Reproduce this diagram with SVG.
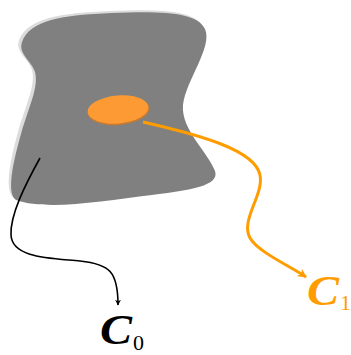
<svg xmlns="http://www.w3.org/2000/svg" width="351" height="355" viewBox="0 0 351 355">
<style>
.lbl{font-family:"Liberation Serif","DejaVu Serif",serif;font-style:italic;font-weight:bold;font-size:42px}
.sub{font-family:"Liberation Serif","DejaVu Serif",serif;font-size:22px}
.conn{fill:none}
</style>
<defs>
<marker id="ab" viewBox="0 0 10 10" refX="9" refY="5" markerWidth="6" markerHeight="6" orient="auto" markerUnits="userSpaceOnUse"><path d="M0,0 L10,5 L0,10 L3,5 Z" fill="#000"/></marker>
<marker id="ao" viewBox="0 0 10 10" refX="9" refY="5" markerWidth="9" markerHeight="9" orient="auto" markerUnits="userSpaceOnUse"><path d="M0,0 L10,5 L0,10 L3,5 Z" fill="#ff9d00"/></marker>
</defs>
<g id="surface">
<path d="M19,40 C28,18 60,13 110,11 C160,9 195,10 203,27 C211,45 184,78 181,103 C179,128 206,150 213,169 C218,184 188,188 150,193 C100,199 45,209 14,198 C4,192 10,160 18,132 C26,104 36,85 32,70 C28,58 15,52 19,40 Z" fill="#dcdcdc"/>
<path d="M22,42 C30,20 62,15 112,13 C162,11 197,12 205,29 C213,47 186,80 183,105 C181,130 208,152 215,171 C220,186 190,190 152,195 C102,201 47,211 16,200 C6,194 13,162 21,134 C29,106 39,87 35,72 C31,60 18,54 22,42 Z" fill="#808080"/>
</g>
<g id="patch">
<ellipse cx="118.5" cy="110.5" rx="31" ry="14.5" transform="rotate(-5 118.5 110.5)" fill="#c97a2e"/>
<ellipse cx="118" cy="109.5" rx="30.5" ry="14" transform="rotate(-5 118 109.5)" fill="#fd9a33"/>
</g>
<g id="connectors">
<path class="conn" d="M40,158 C25,185 10,215 11,235 C12,258 50,258 80,261 C110,264 118,272 118,305" stroke="#000" stroke-width="1.6" marker-end="url(#ab)"/>
<path class="conn" d="M143,122 C200,135 255,150 260,175 C264,195 240,220 250,238 C258,252 290,266 306,277" stroke="#ff9d00" stroke-width="3" marker-end="url(#ao)"/>
</g>
<g id="C0">
<text class="lbl" x="100" y="344" fill="#000" textLength="32" lengthAdjust="spacingAndGlyphs">C</text>
<text class="sub" x="133" y="350" fill="#000">0</text>
</g>
<g id="C1">
<text class="lbl" x="307" y="305" fill="#ff9d00" textLength="32" lengthAdjust="spacingAndGlyphs">C</text>
<text class="sub" x="340" y="310" fill="#ff9d00">1</text>
</g>
</svg>
